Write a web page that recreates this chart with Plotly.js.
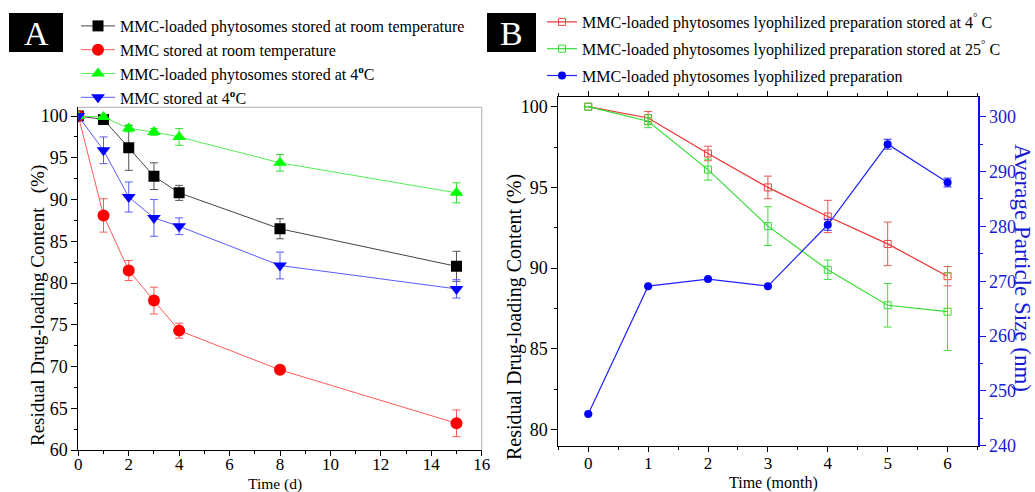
<!DOCTYPE html>
<html>
<head>
<meta charset="utf-8">
<script src="https://cdn.plot.ly/plotly-3.0.1.min.js"></script>
<style>html,body{margin:0;padding:0;background:#fff;}#chart{width:1035px;height:492px;}</style>
</head>
<body>
<div id="chart"></div>
<script>
// ---- Panel A data (time in days) ----
var timeA = [0, 1, 2, 3, 4, 8, 15];
var phytoRT = [100, 99.6, 96.2, 92.8, 90.8, 86.5, 82.0];
var phytoRTErr = [0, 0.5, 2.7, 1.6, 0.9, 1.2, 1.8];
var mmcRT = [100, 88.1, 81.5, 77.9, 74.3, 69.6, 63.2];
var mmcRTErr = [0, 2.0, 1.2, 1.6, 0.9, 0.4, 1.6];
var phyto4 = [100, 99.9, 98.5, 98.1, 97.5, 94.4, 90.8];
var phyto4Err = [0, 0.3, 0.4, 0.4, 1.0, 1.0, 1.2];
var mmc4 = [100, 95.9, 90.3, 87.8, 86.8, 82.1, 79.3];
var mmc4Err = [0, 1.6, 1.8, 2.2, 1.0, 1.6, 1.1];
var namesA = [
  'MMC-loaded phytosomes stored at room temperature',
  'MMC stored at room temperature',
  'MMC-loaded phytosomes stored at 4<sup><b>o</b></sup>C',
  'MMC stored at 4<sup><b>o</b></sup>C'
];
var ticksA_x = [0, 2, 4, 6, 8, 10, 12, 14, 16];

// ---- Panel B data (time in months) ----
var timeB = [0, 1, 2, 3, 4, 5, 6];
var lyo4 = [100, 99.3, 97.1, 95.0, 93.2, 91.5, 89.5];
var lyo4Err = [0, 0.4, 0.45, 0.7, 1.0, 1.35, 0.6];
var lyo25 = [100, 99.1, 96.1, 92.6, 89.9, 87.7, 87.3];
var lyo25Err = [0, 0.4, 0.65, 1.2, 0.6, 1.35, 2.4];
var particleSize = [245.8, 269.1, 270.4, 269.1, 280.3, 295.0, 288.0];
var particleSizeErr = [0, 0, 0, 0, 1.0, 0.9, 0.8];
var namesB = [
  'MMC-loaded phytosomes lyophilized preparation stored at 4<sup>°</sup> C',
  'MMC-loaded phytosomes lyophilized preparation stored at 25<sup>°</sup> C',
  'MMC-loaded phytosomes lyophilized preparation'
];

var W = 1035, H = 492;
function px(x) { return x / W; }
function py(y) { return 1 - y / H; }
var SERIF = 'Liberation Serif, Times New Roman, serif';

function errs(arr, col) {
  return {type: 'data', array: arr, visible: true, color: col, thickness: 1, width: 4};
}

var traces = [
  {x: timeA, y: phytoRT, name: namesA[0], xaxis: 'x', yaxis: 'y', mode: 'lines+markers', legend: 'legend',
   line: {color: '#444444', width: 1}, marker: {symbol: 'square', size: 11, color: '#000000'},
   error_y: errs(phytoRTErr, '#555555')},
  {x: timeA, y: mmcRT, name: namesA[1], xaxis: 'x', yaxis: 'y', mode: 'lines+markers', legend: 'legend',
   line: {color: '#ff5a5a', width: 1}, marker: {symbol: 'circle', size: 12, color: '#ff0000'},
   error_y: errs(mmcRTErr, '#ff5a5a')},
  {x: timeA, y: phyto4, name: namesA[2], xaxis: 'x', yaxis: 'y', mode: 'lines+markers', legend: 'legend',
   line: {color: '#55ee55', width: 1}, marker: {symbol: 'triangle-up', size: 12, color: '#00ff00'},
   error_y: errs(phyto4Err, '#33dd33')},
  {x: timeA, y: mmc4, name: namesA[3], xaxis: 'x', yaxis: 'y', mode: 'lines+markers', legend: 'legend',
   line: {color: '#5a5aff', width: 1}, marker: {symbol: 'triangle-down', size: 12, color: '#0000ff'},
   error_y: errs(mmc4Err, '#5a5aff')},

  {x: timeB, y: lyo4, name: namesB[0], xaxis: 'x2', yaxis: 'y2', mode: 'lines+markers', legend: 'legend2', legendgroup: 'b1',
   line: {color: '#ee3333', width: 1.2}, marker: {symbol: 'square-open', size: 7, color: '#ee4444', line: {width: 1}},
   error_y: errs(lyo4Err, '#ee5555')},
  {x: timeB, y: lyo25, name: namesB[1], xaxis: 'x2', yaxis: 'y2', mode: 'lines+markers', legend: 'legend2', legendgroup: 'b2',
   line: {color: '#33dd33', width: 1.2}, marker: {symbol: 'square-open', size: 7, color: '#33dd33', line: {width: 1}},
   error_y: errs(lyo25Err, '#44dd44')},
  {x: timeB, y: particleSize, name: namesB[2], xaxis: 'x2', yaxis: 'y3', mode: 'lines+markers', legend: 'legend2', legendgroup: 'b3',
   line: {color: '#2222ff', width: 1.2}, marker: {symbol: 'circle', size: 8, color: '#0000ff'},
   error_y: errs(particleSizeErr, '#2222ff')}
];

var tickFont = {family: SERIF, size: 18, color: '#000'};
function axisBase() {
  return {showgrid: false, zeroline: false, showline: true, linecolor: '#000', linewidth: 1,
          ticks: 'outside', ticklen: 6, tickwidth: 1, tickcolor: '#000', tickfont: tickFont, fixedrange: true};
}

var xA = Object.assign(axisBase(), {domain: [px(78.3), px(481.7)], range: [0, 16], tickvals: ticksA_x, anchor: 'y',
  ticklen: 5, ticklabelstandoff: -6, tickfont: {family: SERIF, size: 17, color: '#000'},
  minor: {dtick: 1, ticklen: 3, ticks: 'outside', tickcolor: '#000'}});
var yA = Object.assign(axisBase(), {domain: [py(450), py(107.3)], range: [60, 101.05], dtick: 5, tick0: 60, anchor: 'x',
  minor: {dtick: 2.5, ticklen: 3, ticks: 'outside', tickcolor: '#000'}});
var xB = Object.assign(axisBase(), {domain: [px(558.3), px(977.5)], range: [-0.5, 6.5], dtick: 1, tick0: 0, anchor: 'y2',
  ticklen: 5, ticklabelstandoff: -3, tickfont: {family: SERIF, size: 17, color: '#000'},
  mirror: 'ticks', minor: {dtick: 0.5, ticklen: 3, ticks: 'outside', tickcolor: '#000'}});
var yB = Object.assign(axisBase(), {domain: [py(445.7), py(97)], range: [79, 100.6], dtick: 5, tick0: 80, anchor: 'x2',
  minor: {dtick: 2.5, ticklen: 3, ticks: 'outside', tickcolor: '#000'}});
var yB2 = Object.assign(axisBase(), {domain: [py(445.7), py(97)], range: [240, 303.6], dtick: 10, tick0: 240,
  anchor: 'x2', overlaying: 'y2', side: 'right', linecolor: '#1010ee', linewidth: 2, tickcolor: '#1010ee',
  tickfont: {family: SERIF, size: 18, color: '#1a1ad0'},
  minor: {dtick: 5, ticklen: 3, ticks: 'outside', tickcolor: '#1010ee'}});

var layout = {
  width: W, height: H,
  margin: {l: 0, r: 0, t: 0, b: 0},
  paper_bgcolor: '#fff', plot_bgcolor: 'rgba(0,0,0,0)',
  font: {family: SERIF, size: 16, color: '#000'},
  xaxis: xA, yaxis: yA, xaxis2: xB, yaxis2: yB, yaxis3: yB2,
  legend: {x: px(76), y: py(9), xanchor: 'left', yanchor: 'top', bgcolor: 'rgba(0,0,0,0)', borderwidth: 0,
           itemwidth: 34, font: {family: SERIF, size: 16, color: '#000'}, tracegroupgap: 0},
  legend2: {x: px(542), y: py(5), xanchor: 'left', yanchor: 'top', bgcolor: 'rgba(0,0,0,0)', borderwidth: 0,
            font: {family: SERIF, size: 16, color: '#000'}, traceorder: 'grouped', tracegroupgap: 3},
  shapes: [
    {type: 'line', xref: 'x domain', yref: 'y domain', x0: 0, x1: 1, y0: 1, y1: 1, line: {color: '#b0b0b0', width: 1}},
    {type: 'line', xref: 'x domain', yref: 'y domain', x0: 1, x1: 1, y0: 0, y1: 1, line: {color: '#b0b0b0', width: 1}},
    {type: 'rect', xref: 'paper', yref: 'paper', x0: px(9), x1: px(63), y0: py(52), y1: py(13), fillcolor: '#000', line: {width: 0}},
    {type: 'rect', xref: 'paper', yref: 'paper', x0: px(487), x1: px(536), y0: py(52), y1: py(13), fillcolor: '#000', line: {width: 0}}
  ],
  annotations: [
    {text: 'A', xref: 'paper', yref: 'paper', x: px(36), y: py(33), xanchor: 'center', yanchor: 'middle', showarrow: false,
     font: {family: SERIF, size: 34, color: '#fff'}},
    {text: 'B', xref: 'paper', yref: 'paper', x: px(511.5), y: py(33), xanchor: 'center', yanchor: 'middle', showarrow: false,
     font: {family: SERIF, size: 34, color: '#fff'}},
    {text: 'Residual Drug-loading Content &#160;&#160;(%)', xref: 'paper', yref: 'paper', x: px(38), y: py(306), textangle: -90,
     xanchor: 'center', yanchor: 'middle', showarrow: false, font: {family: SERIF, size: 19, color: '#000'}},
    {text: 'Time (d)', xref: 'paper', yref: 'paper', x: px(275), y: py(484), xanchor: 'center', yanchor: 'middle', showarrow: false,
     borderpad: 0, font: {family: SERIF, size: 15.5, color: '#000'}},
    {text: 'Residual Drug-loading Content (%)', xref: 'paper', yref: 'paper', x: px(514), y: py(317), textangle: -90,
     xanchor: 'center', yanchor: 'middle', showarrow: false, font: {family: SERIF, size: 20, color: '#000'}},
    {text: 'Time (month)', xref: 'paper', yref: 'paper', x: px(773), y: py(483), xanchor: 'center', yanchor: 'middle', showarrow: false,
     borderpad: 0, font: {family: SERIF, size: 16, color: '#000'}},
    {text: 'Average Particle Size (nm)', xref: 'paper', yref: 'paper', x: px(1023), y: py(268), textangle: 90,
     xanchor: 'center', yanchor: 'middle', showarrow: false, font: {family: SERIF, size: 23, color: '#1a1ad0'}}
  ]
};

Plotly.newPlot('chart', traces, layout, {staticPlot: true, displayModeBar: false});
</script>
</body>
</html>
